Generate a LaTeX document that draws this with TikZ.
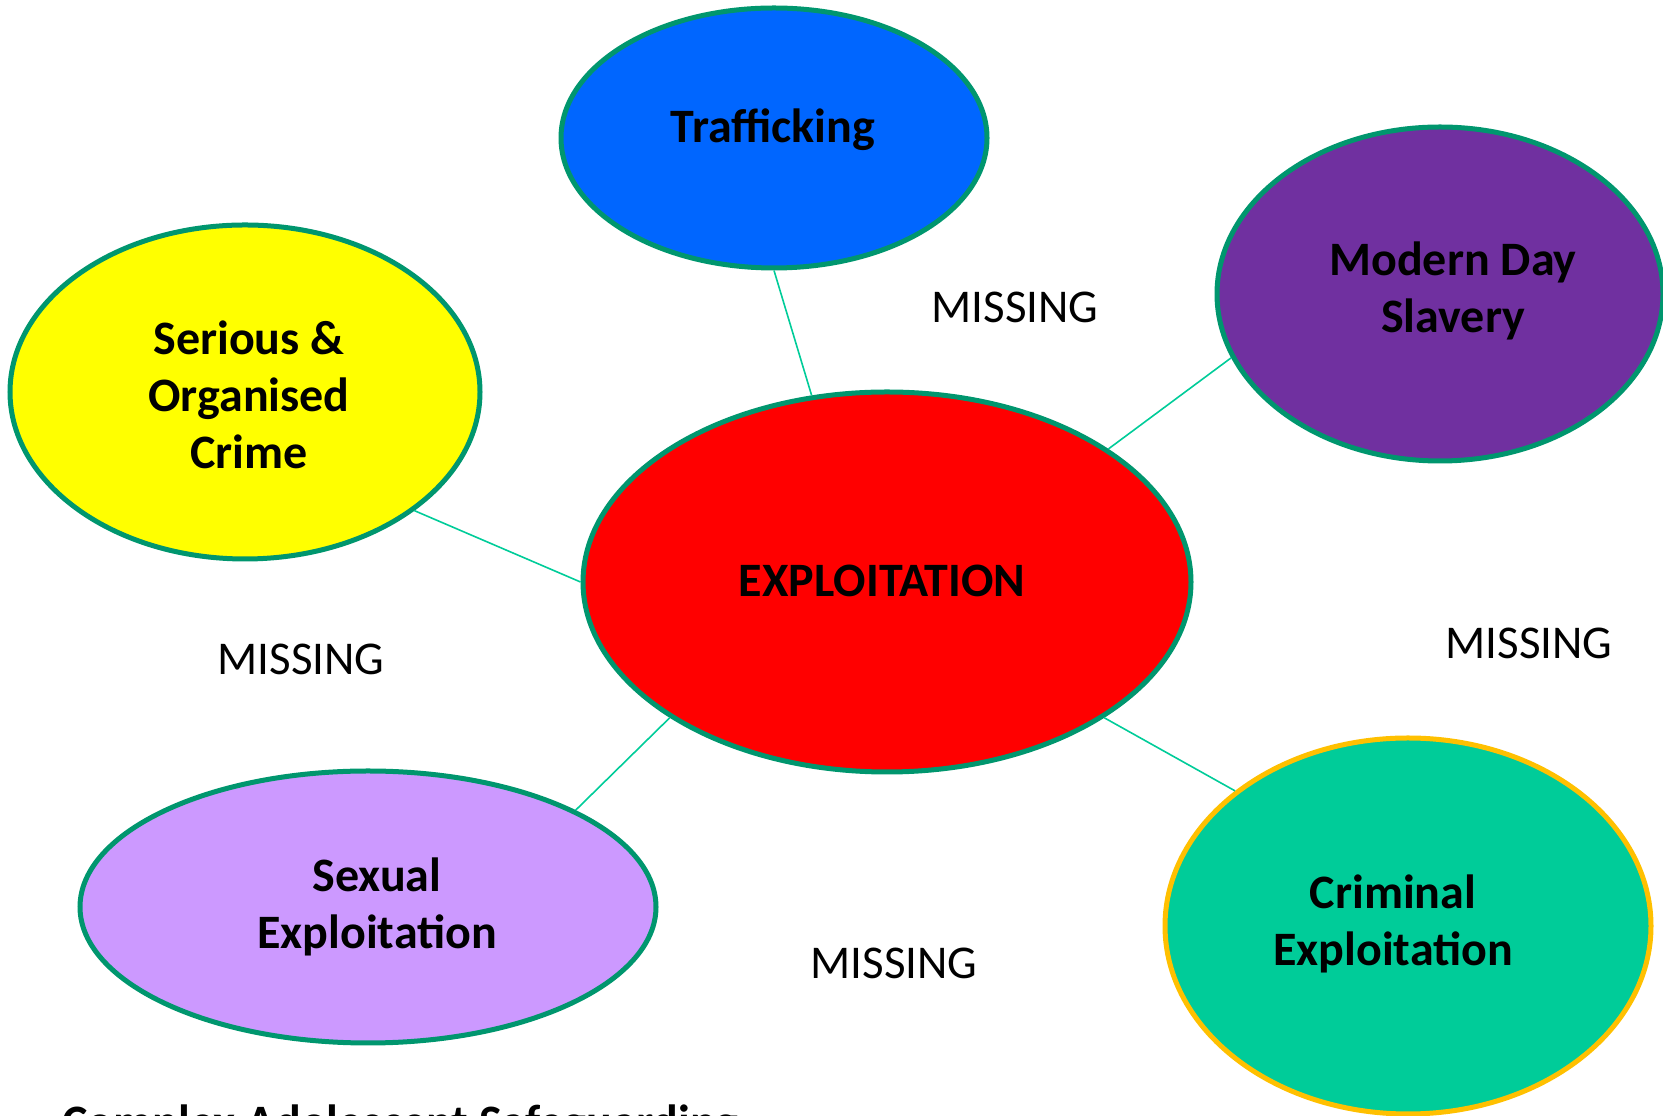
\documentclass[tikz,border=0pt]{standalone}
\usepackage{fontspec}
\setmainfont{Carlito}
\usetikzlibrary{shapes.geometric}
\definecolor{rim}{RGB}{0,150,110}
\definecolor{link}{RGB}{0,204,153}
\definecolor{trafblue}{RGB}{0,102,255}
\definecolor{slavpurple}{RGB}{112,48,160}
\definecolor{sexlilac}{RGB}{204,153,255}
\definecolor{crimgreen}{RGB}{0,204,153}
\definecolor{crimrim}{RGB}{255,192,0}
\definecolor{socyellow}{RGB}{255,255,0}
\tikzset{
  blob/.style={ellipse, draw=rim, line width=5pt, inner sep=0pt},
  lbl/.style={font=\fontsize{48}{57}\selectfont\bfseries, text=black, align=center, inner sep=0pt},
  miss/.style={font=\fontsize{47}{56}\selectfont, text=black, inner sep=0pt},
  conn/.style={draw=link, line width=1.6pt}
}
\begin{document}
\begin{tikzpicture}[x=1pt,y=1pt]
\clip (0,0) rectangle (1663,1116);
\useasboundingbox (0,0) rectangle (1663,1116);
% ellipses
\node[blob, fill=trafblue, minimum width=426pt, minimum height=260pt] (traf) at (774,978) {};
\node[blob, fill=socyellow, minimum width=470pt, minimum height=334pt] (soc) at (245,724) {};
\node[blob, fill=slavpurple, minimum width=446pt, minimum height=334pt] (mds) at (1440,822) {};
\node[blob, fill=red, minimum width=608pt, minimum height=380pt] (expl) at (887,534) {};
\node[blob, fill=sexlilac, minimum width=576pt, minimum height=272pt] (sex) at (368,209) {};
\node[blob, draw=crimrim, fill=crimgreen, minimum width=486pt, minimum height=376pt] (crim) at (1408,190) {};
% connectors
\draw[conn] (traf.-90) -- (expl.112.8);
\draw[conn] (soc.-35.6) -- (expl.180);
\draw[conn] (mds.197.4) -- (expl.31.8);
\draw[conn] (sex.25.6) -- (expl.212.1);
\draw[conn] (crim.142.1) -- (expl.-32);
% labels
\node[lbl, anchor=base] (trafT) at (773,973) {Trafficking};
\node[lbl] (socT) at (249,721) {Serious \&\\Organised\\Crime};
\node[lbl] (mdsT) at (1453,825) {Modern Day\\Slavery};
\node[lbl] (explT) at (882,535) {EXPLOITATION};
\node[lbl] (sexT) at (377,209) {Sexual\\Exploitation};
\node[lbl] (crimT) at (1393,192) {Criminal\\Exploitation};
% missing
\node[miss] (m1) at (1015,809) {MISSING};
\node[miss] (m2) at (301,457) {MISSING};
\node[miss] (m3) at (1529,473) {MISSING};
\node[miss] (m4) at (894,153) {MISSING};
% cut-off footer
\node[lbl, anchor=base west] (foot) at (62,-23) {Complex Adolescent Safeguarding};
\end{tikzpicture}
\end{document}
